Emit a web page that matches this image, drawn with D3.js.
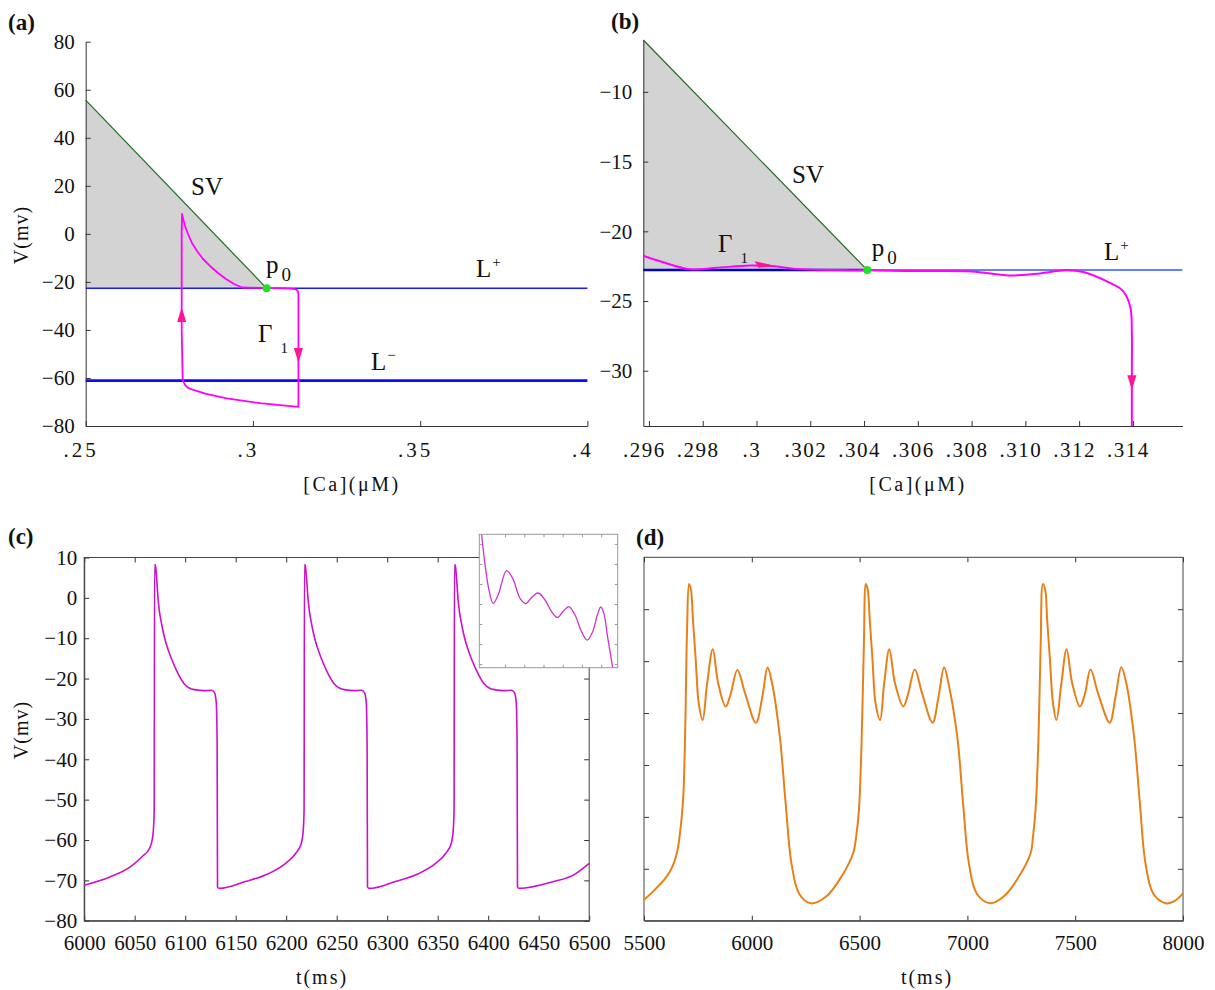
<!DOCTYPE html>
<html>
<head>
<meta charset="utf-8">
<script src="https://cdn.jsdelivr.net/npm/d3@7"></script>
<style>
  body { margin: 0; background: #fff; }
  text { font-family: "Liberation Serif", "Times New Roman", serif; fill: #111; }
</style>
</head>
<body>
<div id="fig"></div>
<script>
// ---------- panel (a) data ----------
const caTicksA = [0.25, 0.3, 0.35, 0.4];
const caLabelsA = [".25", ".3", ".35", ".4"];
const vTicksA = [80, 60, 40, 20, 0, -20, -40, -60, -80];
const vLabelsA = ["80", "60", "40", "20", "0", "−20", "−40", "−60", "−80"];
const p0 = [0.30412, -22.75];
const lPlusA = -22.7;
const lMinusA = -61.1;
const svA = [[0.25, 55.7], [0.30412, -22.7]];
const gammaA = [
  [0.2790, -60.9], [0.2787, -40], [0.2787, -23.4], [0.2787, 0], [0.2788, 8.3],
  [0.27909, 6.6], [0.27969, 3.27], [0.28059, -0.06], [0.28178, -3.81], [0.28328, -7.14],
  [0.28507, -10.47], [0.28716, -13.38], [0.28956, -16.3], [0.29195, -18.8], [0.29434, -20.88],
  [0.29673, -22.34], [0.3021, -22.5], [0.3101, -22.7], [0.3126, -23.0], [0.3133, -23.6],
  [0.3136, -24.8], [0.3136, -37.2], [0.3136, -72.0], [0.3021, -70.5], [0.2922, -68.5],
  [0.2860, -66.6], [0.2822, -65.0], [0.2805, -64.0], [0.2797, -62.9], [0.2790, -60.9]
];
const arrowsA = [[0.2787, -30.5, "up"], [0.3136, -53.8, "down"]];
const labelsA = [
  { main: "SV", ca: 0.28148, v: 16.2 },
  { main: "p", sub: "0", ca: 0.30391, v: -16.3 },
  { main: "L", sup: "+", ca: 0.36669, v: -18.0 },
  { main: "L", sup: "−", ca: 0.33530, v: -56.7 },
  { main: "Γ", sub: "1", ca: 0.30151, v: -45.0 }
];

// ---------- panel (b) data ----------
const caDomainB = [0.29579, 0.31584];
const vDomainB = [-33.96, -6.28];
const caTicksB = [0.296, 0.298, 0.300, 0.302, 0.304, 0.306, 0.308, 0.310, 0.312, 0.314];
const caLabelsB = [".296", ".298", ".3", ".302", ".304", ".306", ".308", ".310", ".312", ".314"];
const vTicksB = [-10, -15, -20, -25, -30];
const vLabelsB = ["−10", "−15", "−20", "−25", "−30"];
const lPlusB = -22.78;
const svB = [[0.29579, -6.28], [0.30412, -22.78]];
const gammaB = [
  [0.29579, -21.75], [0.2965, -22.2], [0.29752, -22.72], [0.2985, -22.62], [0.29976, -22.45],
  [0.30075, -22.52], [0.30146, -22.7], [0.3030, -22.78], [0.30412, -22.8], [0.3060, -22.85],
  [0.3080, -22.88], [0.30939, -23.16], [0.3104, -23.05], [0.3115, -22.8], [0.31216, -22.92],
  [0.3132, -23.75], [0.31361, -24.23], [0.3139, -25.4], [0.31396, -27.3], [0.31396, -30],
  [0.31396, -33.96]
];
const arrowsB = [[0.30075, -22.5, "right"], [0.31396, -31.4, "down"]];
const labelsB = [
  { main: "SV", ca: 0.30132, v: -16.53 },
  { main: "p", sub: "0", ca: 0.30429, v: -21.77 },
  { main: "L", sup: "+", ca: 0.31292, v: -22.06 },
  { main: "Γ", sub: "1", ca: 0.29857, v: -21.48 }
];

// ---------- panel (c) data ----------
const tTicksC = [6000, 6050, 6100, 6150, 6200, 6250, 6300, 6350, 6400, 6450, 6500];
const vTicksC = [10, 0, -10, -20, -30, -40, -50, -60, -70, -80];
const vLabelsC = ["10", "0", "−10", "−20", "−30", "−40", "−50", "−60", "−70", "−80"];
const traceC = [
  [6000, -71.2], [6026, -69.1], [6046, -66.6], [6057.5, -64.1], [6064.6, -62.1], [6067.3, -60.0],
  [6068.5, -57.5], [6069.3, -52.6], [6069.7, 8.2], [6070.5, 8.2], [6071.6, 5.3], [6073.2, -0.5],
  [6077.1, -7.1], [6081, -11.2], [6086.9, -15.4], [6092.8, -18.7], [6098.7, -21.2], [6104.5, -22.4],
  [6110.4, -22.8], [6118.2, -23.0], [6126.1, -22.9], [6129.2, -23.6], [6130.8, -26.1], [6131.6, -36],
  [6132, -71.6], [6133.9, -72.0],
  [6159.4, -70.3], [6182.9, -68.3], [6198.5, -66.0], [6209.5, -63.3], [6215, -60.8], [6216.9, -57.5],
  [6217.7, -52.6], [6218.1, 8.2], [6218.9, 8.2], [6220, 5.3], [6221.7, -0.5], [6225.6, -7.1],
  [6229.5, -11.2], [6235.4, -15.4], [6241.3, -18.7], [6247.2, -21.2], [6253, -22.4], [6259, -22.8],
  [6266.7, -23.0], [6274.6, -22.9], [6277.7, -23.6], [6279.3, -26.1], [6280.1, -36], [6280.5, -71.6],
  [6282.4, -72.0],
  [6308, -70.3], [6331.4, -68.3], [6347, -66.0], [6358, -63.3], [6363.5, -60.8], [6365.4, -57.5],
  [6366.2, -52.6], [6366.6, 8.2], [6367.4, 8.2], [6368.5, 5.3], [6370.2, -0.5], [6374.1, -7.1],
  [6378, -11.2], [6383.9, -15.4], [6389.8, -18.7], [6395.7, -21.2], [6401.5, -22.4], [6407.4, -22.8],
  [6415.2, -23.0], [6423.1, -22.9], [6426.2, -23.6], [6427.8, -26.1], [6428.6, -36], [6429, -71.6],
  [6430.9, -72.0], [6464.8, -70.3], [6484.3, -68.7], [6500, -65.8]
];
// inset of (c): plateau detail
const tDomainInset = [6098.3, 6134.3];
const vDomainInset = [-23.318, -22.652];
const tTicksInset = [6105, 6110, 6115, 6120, 6125, 6130];
const vTicksInset = [-22.7, -22.8, -22.9, -23.0, -23.1, -23.2, -23.3];
const traceInset = [
  [6098.9, -22.652], [6099.8, -22.805], [6100.9, -22.938], [6101.9, -22.997], [6103.2, -22.955],
  [6105.4, -22.833], [6107.0, -22.872], [6108.9, -22.972], [6110.4, -22.998], [6111.9, -22.968],
  [6113.6, -22.945], [6115.4, -22.98], [6117.1, -23.038], [6118.6, -23.067], [6120.2, -23.035],
  [6121.6, -23.013], [6123.2, -23.055], [6124.9, -23.138], [6126.4, -23.18], [6127.8, -23.138],
  [6129.0, -23.055], [6129.9, -23.015], [6130.7, -23.047], [6131.6, -23.155], [6132.3, -23.238],
  [6133.0, -23.318]
];

// ---------- panel (d) data ----------
const tTicksD = [5500, 6000, 6500, 7000, 7500, 8000];
const vTicksD = [-60, -40, -20, 0, 20, 40];
const traceD = [
  [5500, -72.0], [5545, -68.5], [5593, -64.3], [5620, -61], [5638, -57.9], [5655, -53],
  [5665, -47.6], [5675, -40], [5683, -30.9], [5691.5, -5.2], [5700, 33.3], [5709, 49.7],
  [5718, 47.4], [5727, 35.9], [5740, 20.4], [5754, 3.7], [5772, -2.7], [5793, 11.5],
  [5819, 24.6], [5844, 11.5], [5879, 2.5], [5901, 7.0], [5933, 16.6], [5969, 7.6],
  [6019, -3.7], [6049, 6.3], [6073, 17.5], [6094, 11.5], [6130, -9.1], [6157, -34.8],
  [6184, -57.9], [6219, -69.5], [6273, -73.3], [6345, -70.7], [6416, -63.0], [6470, -54.0],
  [6485, -47], [6497, -37.4], [6509, -11.7], [6520, 26.9], [6529, 49.7],
  [6538, 47.4], [6547, 35.9], [6560, 20.4], [6574, 3.7], [6595, -2.7], [6614, 11.5],
  [6638, 24.6], [6664, 11.5], [6702.6, 2.5], [6724, 7.0], [6756, 16.8], [6790, 7.6],
  [6838.6, -3.7], [6866, 6.3], [6892, 17.6], [6912, 11.5], [6953, -9.1], [6980, -34.8],
  [7007, -57.9], [7043, -69.5], [7105, -73.3], [7168, -70.7], [7239, -63.0], [7293, -54.0],
  [7305, -47], [7316, -37.4], [7329, -11.7], [7340, 26.9], [7350, 49.7],
  [7361, 47.4], [7370, 35.9], [7383, 20.4], [7397, 3.7], [7413, -2.7], [7436, 11.5],
  [7460, 24.6], [7486, 11.5], [7522, 2.5], [7544, 7.0], [7571, 16.8], [7606, 7.6],
  [7660, -3.7], [7687, 6.3], [7714, 17.6], [7737, 11.5], [7773, -9.1], [7800, -34.8],
  [7826, -57.9], [7862, -69.5], [7920, -73.3], [7960, -72.5], [8000, -69.5]
];

// ---------- drawing ----------
const svg = d3.select("#fig").append("svg")
  .attr("width", 1215)
  .attr("height", 990);

svg.append("rect").attr("width", 1215).attr("height", 990).attr("fill", "#fff");

const tickFont = 21;

function styleAxis(g, size) {
  g.selectAll("line, path").attr("stroke", "#333");
  g.selectAll("text").style("font-size", size + "px").attr("fill", "#111");
}

function drawArrow(g, px, py, dir, color) {
  let pts;
  if (dir === "up") pts = [[px, py], [px - 4.5, py + 15], [px + 4.5, py + 15]];
  else if (dir === "down") pts = [[px, py], [px - 4.5, py - 15], [px + 4.5, py - 15]];
  else pts = [[px, py], [px - 22, py - 5], [px - 18, py + 1.5]];
  g.append("path")
    .attr("d", "M" + pts.map(p => p.join(",")).join("L") + "Z")
    .attr("fill", color);
}

function drawLabels(g, labels, x, y) {
  labels.forEach(d => {
    const t = g.append("text")
      .attr("x", x(d.ca))
      .attr("y", y(d.v))
      .style("font-size", "25px")
      .text(d.main);
    if (d.sub) {
      const big = d.main === "Γ";
      t.append("tspan")
        .attr("dx", big ? 8 : 3)
        .attr("dy", big ? 11 : 8)
        .style("font-size", big ? "15px" : "19px")
        .text(d.sub);
    }
    if (d.sup) {
      t.append("tspan")
        .attr("dx", 1)
        .attr("dy", -10)
        .style("font-size", "15px")
        .text(d.sup);
    }
  });
}

function panelLetter(x, y, s) {
  svg.append("text").attr("x", x).attr("y", y)
    .style("font-size", "23px").style("font-weight", "bold")
    .text(s);
}

// ===== (a) =====
const xA = d3.scaleLinear().domain([0.25, 0.4]).range([85.7, 587.4]);
const yA = d3.scaleLinear().domain([-80, 80]).range([426, 41.7]);
const gA = svg.append("g");
const lineA = d3.line().x(d => xA(d[0])).y(d => yA(d[1]));

gA.append("path")
  .attr("d", lineA([svA[0], svA[1], [0.25, lPlusA]]) + "Z")
  .attr("fill", "#d3d3d3");

const axA = gA.append("g").attr("transform", "translate(0,426)")
  .call(d3.axisBottom(xA).tickValues(caTicksA).tickSize(-5).tickSizeOuter(0)
    .tickPadding(16).tickFormat((d, i) => caLabelsA[i]));
axA.selectAll("text").attr("dx", -5).style("letter-spacing", "3px");
styleAxis(axA, tickFont);
const ayA = gA.append("g").attr("transform", "translate(85.7,0)")
  .call(d3.axisLeft(yA).tickValues(vTicksA).tickSize(-5).tickSizeOuter(0)
    .tickPadding(11).tickFormat((d, i) => vLabelsA[i]));
styleAxis(ayA, tickFont);

gA.append("path").attr("d", lineA(svA)).attr("stroke", "#1d6e1d").attr("stroke-width", 1.2).attr("fill", "none");
gA.append("line").attr("x1", xA(0.25)).attr("x2", xA(0.4)).attr("y1", yA(lPlusA)).attr("y2", yA(lPlusA))
  .attr("stroke", "#1a1aff").attr("stroke-width", 1.5);
gA.append("line").attr("x1", xA(0.25)).attr("x2", xA(0.4)).attr("y1", yA(lMinusA)).attr("y2", yA(lMinusA))
  .attr("stroke", "#0a0aff").attr("stroke-width", 2.6);
gA.append("path").attr("d", lineA(gammaA))
  .attr("stroke", "#ff00ff").attr("stroke-width", 1.8)
  .attr("fill", "none").attr("stroke-linejoin", "round");
arrowsA.forEach(a => drawArrow(gA, xA(a[0]), yA(a[1]), a[2], "#ff1493"));
gA.append("circle").attr("cx", xA(p0[0])).attr("cy", yA(lPlusA)).attr("r", 4).attr("fill", "#22e022");
drawLabels(gA, labelsA, xA, yA);

gA.append("text").attr("x", 352).attr("y", 491).attr("text-anchor", "middle")
  .style("font-size", "20px").style("letter-spacing", "2.5px").text("[Ca](μM)");
gA.append("text").attr("transform", "translate(28,235) rotate(-90)").attr("text-anchor", "middle")
  .style("font-size", "20px").style("letter-spacing", "1px").text("V(mv)");
panelLetter(8, 30, "(a)");

// ===== (b) =====
const xB = d3.scaleLinear().domain(caDomainB).range([643.3, 1182.4]);
const yB = d3.scaleLinear().domain(vDomainB).range([426, 40]);
const gB = svg.append("g");
const lineB = d3.line().x(d => xB(d[0])).y(d => yB(d[1]));

gB.append("path")
  .attr("d", lineB([svB[0], svB[1], [caDomainB[0], lPlusB]]) + "Z")
  .attr("fill", "#d3d3d3");

const axB = gB.append("g").attr("transform", "translate(0,426)")
  .call(d3.axisBottom(xB).tickValues(caTicksB).tickSize(-5).tickSizeOuter(0)
    .tickPadding(16).tickFormat((d, i) => caLabelsB[i]));
axB.selectAll("text").attr("dx", -5).style("letter-spacing", "1.5px");
styleAxis(axB, tickFont);
const ayB = gB.append("g").attr("transform", "translate(643.3,0)")
  .call(d3.axisLeft(yB).tickValues(vTicksB).tickSize(-5).tickSizeOuter(0)
    .tickPadding(11).tickFormat((d, i) => vLabelsB[i]));
styleAxis(ayB, tickFont);

gB.append("path").attr("d", lineB(svB)).attr("stroke", "#1d6e1d").attr("stroke-width", 1.2).attr("fill", "none");
gB.append("line").attr("x1", xB(caDomainB[0])).attr("x2", xB(caDomainB[1]))
  .attr("y1", yB(lPlusB)).attr("y2", yB(lPlusB))
  .attr("stroke", "#3355ff").attr("stroke-width", 1.5);
gB.append("line").attr("x1", xB(caDomainB[0])).attr("x2", xB(p0[0]))
  .attr("y1", yB(lPlusB)).attr("y2", yB(lPlusB))
  .attr("stroke", "#0000d0").attr("stroke-width", 2.5);
gB.append("path").attr("d", lineB.curve(d3.curveCatmullRom.alpha(0.5))(gammaB))
  .attr("stroke", "#ff00ff").attr("stroke-width", 2).attr("fill", "none");
arrowsB.forEach(a => drawArrow(gB, xB(a[0]), yB(a[1]), a[2], "#ff1493"));
gB.append("circle").attr("cx", xB(p0[0])).attr("cy", yB(lPlusB)).attr("r", 4).attr("fill", "#22e022");
drawLabels(gB, labelsB, xB, yB);

gB.append("text").attr("x", 918).attr("y", 491).attr("text-anchor", "middle")
  .style("font-size", "20px").style("letter-spacing", "2.5px").text("[Ca](μM)");
panelLetter(611, 29, "(b)");

// ===== (c) =====
const xC = d3.scaleLinear().domain([6000, 6500]).range([84.2, 589.2]);
const yC = d3.scaleLinear().domain([-80, 10]).range([920.7, 557.5]);
const gC = svg.append("g");

const axC = gC.append("g").attr("transform", "translate(0,920.7)")
  .call(d3.axisBottom(xC).tickValues(tTicksC).tickSize(-5).tickSizeOuter(0).tickPadding(14).tickFormat(d3.format("d")));
styleAxis(axC, tickFont);
const ayC = gC.append("g").attr("transform", "translate(84.2,0)")
  .call(d3.axisLeft(yC).tickValues(vTicksC).tickSize(-5).tickSizeOuter(0)
    .tickPadding(7).tickFormat((d, i) => vLabelsC[i]));
styleAxis(ayC, tickFont);
gC.append("g").attr("transform", "translate(0,557.5)")
  .call(d3.axisTop(xC).tickValues(tTicksC).tickSize(-5).tickSizeOuter(0).tickFormat(""))
  .call(g => g.select(".domain").remove()).selectAll("line").attr("stroke", "#333");
gC.append("g").attr("transform", "translate(589.2,0)")
  .call(d3.axisRight(yC).tickValues(vTicksC).tickSize(-5).tickSizeOuter(0).tickFormat(""))
  .call(g => g.select(".domain").remove()).selectAll("line").attr("stroke", "#333");
gC.append("rect").attr("x", 84.2).attr("y", 557.5).attr("width", 505).attr("height", 363.2)
  .attr("fill", "none").attr("stroke", "#444");

gC.append("path")
  .attr("d", d3.line().x(d => xC(d[0])).y(d => yC(d[1])).curve(d3.curveMonotoneX)(traceC))
  .attr("stroke", "#cc11cc").attr("stroke-width", 1.6).attr("fill", "none");

gC.append("text").attr("x", 322).attr("y", 984).attr("text-anchor", "middle")
  .style("font-size", "20px").style("letter-spacing", "2px").text("t(ms)");
gC.append("text").attr("transform", "translate(28,730) rotate(-90)").attr("text-anchor", "middle")
  .style("font-size", "20px").style("letter-spacing", "1px").text("V(mv)");
panelLetter(8, 544, "(c)");

// inset
const xI = d3.scaleLinear().domain(tDomainInset).range([479.3, 617.7]);
const yI = d3.scaleLinear().domain(vDomainInset).range([667.7, 534.3]);
const gI = svg.append("g");
gI.append("rect").attr("x", 479.3).attr("y", 534.3).attr("width", 138.4).attr("height", 133.4)
  .attr("fill", "#fff");
gI.append("clipPath").attr("id", "clipInset").append("rect")
  .attr("x", 479.3).attr("y", 534.3).attr("width", 138.4).attr("height", 133.4);
[["bottom", 667.7], ["top", 534.3]].forEach(([side, yy]) => {
  const ax = side === "bottom" ? d3.axisBottom(xI) : d3.axisTop(xI);
  gI.append("g").attr("transform", `translate(0,${yy})`)
    .call(ax.tickValues(tTicksInset).tickSize(-3).tickSizeOuter(0).tickFormat(""))
    .call(g => g.select(".domain").remove()).selectAll("line").attr("stroke", "#999");
});
[["left", 479.3], ["right", 617.7]].forEach(([side, xx]) => {
  const ax = side === "left" ? d3.axisLeft(yI) : d3.axisRight(yI);
  gI.append("g").attr("transform", `translate(${xx},0)`)
    .call(ax.tickValues(vTicksInset).tickSize(-3).tickSizeOuter(0).tickFormat(""))
    .call(g => g.select(".domain").remove()).selectAll("line").attr("stroke", "#999");
});
gI.append("path")
  .attr("clip-path", "url(#clipInset)")
  .attr("d", d3.line().x(d => xI(d[0])).y(d => yI(d[1])).curve(d3.curveCatmullRom.alpha(0.5))(traceInset))
  .attr("stroke", "#cc33cc").attr("stroke-width", 1.3).attr("fill", "none");
gI.append("rect").attr("x", 479.3).attr("y", 534.3).attr("width", 138.4).attr("height", 133.4)
  .attr("fill", "none").attr("stroke", "#999");

// ===== (d) =====
const xD = d3.scaleLinear().domain([5500, 8000]).range([644, 1183]);
const yD = d3.scaleLinear().domain([-80, 60]).range([920.7, 557.3]);
const gD = svg.append("g");

const axD = gD.append("g").attr("transform", "translate(0,920.7)")
  .call(d3.axisBottom(xD).tickValues(tTicksD).tickSize(-5).tickSizeOuter(0).tickPadding(14).tickFormat(d3.format("d")));
styleAxis(axD, tickFont);
gD.append("g").attr("transform", "translate(0,557.3)")
  .call(d3.axisTop(xD).tickValues(tTicksD).tickSize(-5).tickSizeOuter(0).tickFormat(""))
  .call(g => g.select(".domain").remove()).selectAll("line").attr("stroke", "#333");
gD.append("g").attr("transform", "translate(644,0)")
  .call(d3.axisLeft(yD).tickValues(vTicksD).tickSize(-5).tickSizeOuter(0).tickFormat(""))
  .call(g => g.select(".domain").remove()).selectAll("line").attr("stroke", "#333");
gD.append("g").attr("transform", "translate(1183,0)")
  .call(d3.axisRight(yD).tickValues(vTicksD).tickSize(-5).tickSizeOuter(0).tickFormat(""))
  .call(g => g.select(".domain").remove()).selectAll("line").attr("stroke", "#333");
gD.append("rect").attr("x", 644).attr("y", 557.3).attr("width", 539).attr("height", 363.4)
  .attr("fill", "none").attr("stroke", "#444");

gD.append("path")
  .attr("d", d3.line().x(d => xD(d[0])).y(d => yD(d[1])).curve(d3.curveCatmullRom.alpha(0.5))(traceD))
  .attr("stroke", "#e8801a").attr("stroke-width", 2).attr("fill", "none");

gD.append("text").attr("x", 927).attr("y", 984).attr("text-anchor", "middle")
  .style("font-size", "20px").style("letter-spacing", "2px").text("t(ms)");
panelLetter(636, 545, "(d)");
</script>
</body>
</html>
